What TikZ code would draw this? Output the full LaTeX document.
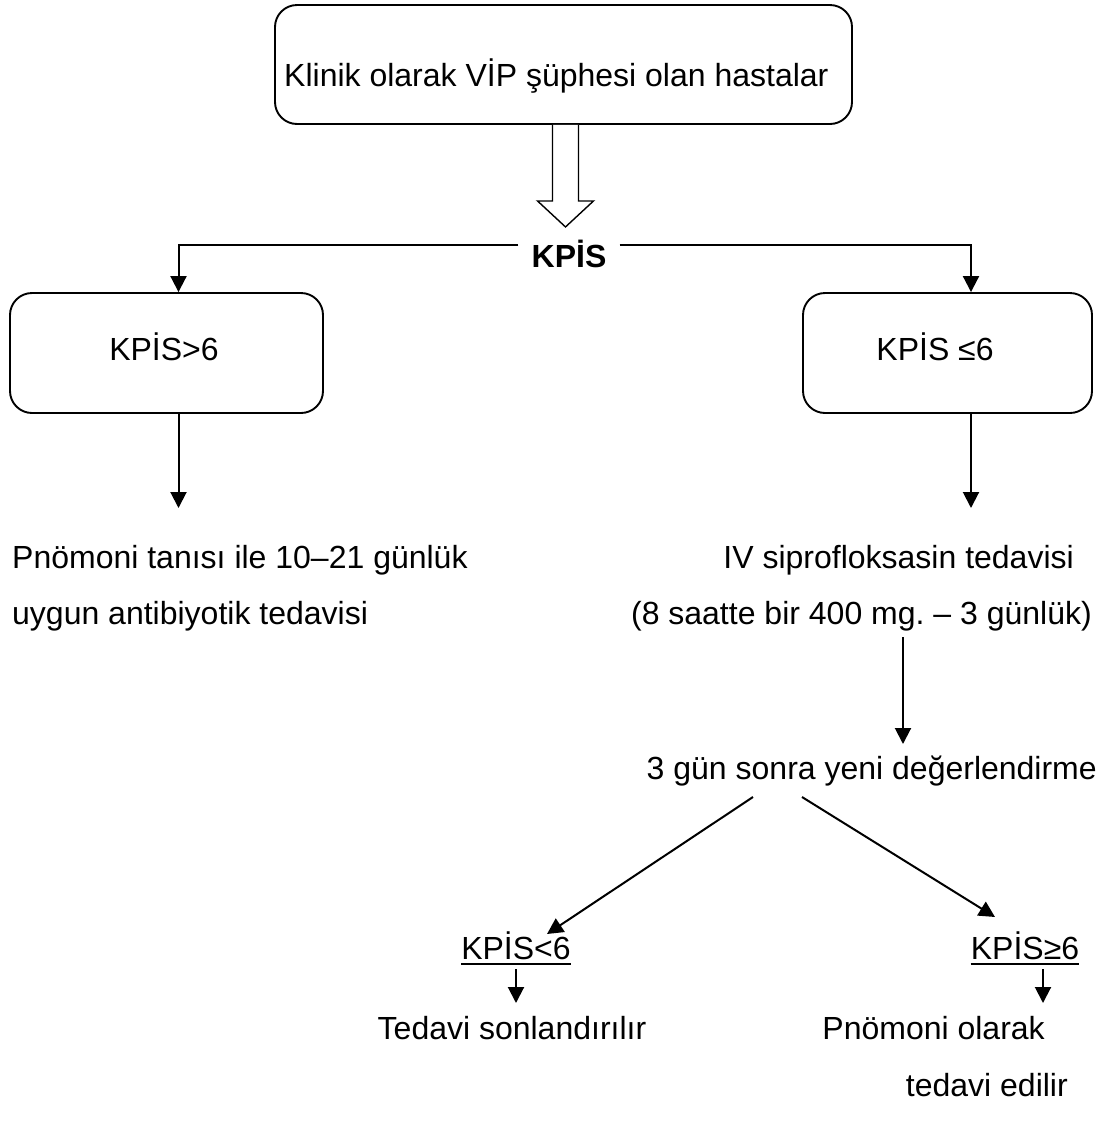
\documentclass[tikz,border=0pt]{standalone}
\usepackage{fontspec}
\setmainfont{Liberation Sans}
\usetikzlibrary{arrows.meta}
\frenchspacing
\begin{document}
\begin{tikzpicture}[x=1pt,y=-1pt,
  every node/.style={font=\fontsize{32}{38}\selectfont},
  panel/.style={draw, line width=1.9pt, rounded corners=22pt, inner sep=0pt},
  lbl/.style={inner sep=0pt},
  link/.style={line width=2pt, -{Triangle[width=16pt,length=16pt]}},
  uline/.style={line width=2.6pt},
]
\useasboundingbox (0,0) rectangle (1107,1144);

% top box
\node[panel, minimum width=577pt, minimum height=119pt] (top) at (563.5,64.5) {};
\node[lbl, anchor=base west] (toptext) at (284,86) {Klinik olarak VİP şüphesi olan hastalar};

% hollow block arrow below the top box
\draw[line width=1.4pt, fill=white] ([xshift=-11pt]top.south) -- ++(0,76) -- ++(-15,0)
  -- ++(28,26) -- ++(28,-26) -- ++(-15,0) -- ++(0,-76);

% score label and its branches
\node[anchor=base, inner xsep=13pt, inner ysep=0pt, text height=23pt, text depth=0pt,
  font=\fontsize{32}{38}\selectfont\bfseries] (kpis) at (569,267) {KPİS};

\node[panel, minimum width=313pt, minimum height=120pt] (lbox) at (166.5,353) {};
\node[lbl, anchor=base] (ltext) at (164,360) {KPİS>6};
\node[panel, minimum width=289pt, minimum height=120pt] (rbox) at (947.5,353) {};
\node[lbl, anchor=base] (rtext) at (935,360) {KPİS ≤6};

\draw[link] ([yshift=10.5pt]kpis.west) -| ([xshift=12pt]lbox.north);
\draw[link] ([yshift=10.5pt]kpis.east) -| ([xshift=23.5pt]rbox.north);

% left branch
\coordinate (la) at (178.5,508);
\draw[link] ([xshift=12pt]lbox.south) -- (la);
\node[lbl, anchor=base west] (lt1) at (12,568) {Pnömoni tanısı ile 10–21 günlük};
\node[lbl, anchor=base west] (lt2) at (12,624) {uygun antibiyotik tedavisi};

% right branch
\coordinate (ra) at (971,508);
\draw[link] ([xshift=23.5pt]rbox.south) -- (ra);
\node[lbl, anchor=base east] (rt1) at (1074,568) {IV siprofloksasin tedavisi};
\node[lbl, anchor=base east] (rt2) at (1092,624) {(8 saatte bir 400 mg. – 3 günlük)};

\coordinate (rb1) at (903,637);
\coordinate (rb2) at (903,744);
\draw[link] (rb1) -- (rb2);
\node[lbl, anchor=base east] (rt3) at (1097,779) {3 gün sonra yeni değerlendirme};

% re-evaluation outcomes
\coordinate (d1) at (753,797);
\coordinate (d2) at (547,934);
\coordinate (d3) at (802,797);
\coordinate (d4) at (995,917);
\draw[link] (d1) -- (d2);
\draw[link] (d3) -- (d4);

\node[lbl, anchor=base] (k1) at (516,959) {KPİS<6};
\node[lbl, anchor=base] (k2) at (1025,959) {KPİS≥6};
\draw[uline] ([yshift=-5pt]k1.base west) -- ([yshift=-5pt]k1.base east);
\draw[uline] ([yshift=-5pt]k2.base west) -- ([yshift=-5pt]k2.base east);

\coordinate (e1) at (516,969);
\coordinate (e2) at (516,1003);
\coordinate (e3) at (1043,969);
\coordinate (e4) at (1043,1003);
\draw[link] (e1) -- (e2);
\draw[link] (e3) -- (e4);

\node[lbl, anchor=base] (t1) at (512,1039) {Tedavi sonlandırılır};
\node[lbl, anchor=base east] (t2) at (1045,1039) {Pnömoni olarak};
\node[lbl, anchor=base east] (t3) at (1068,1096) {tedavi edilir};
\end{tikzpicture}
\end{document}
